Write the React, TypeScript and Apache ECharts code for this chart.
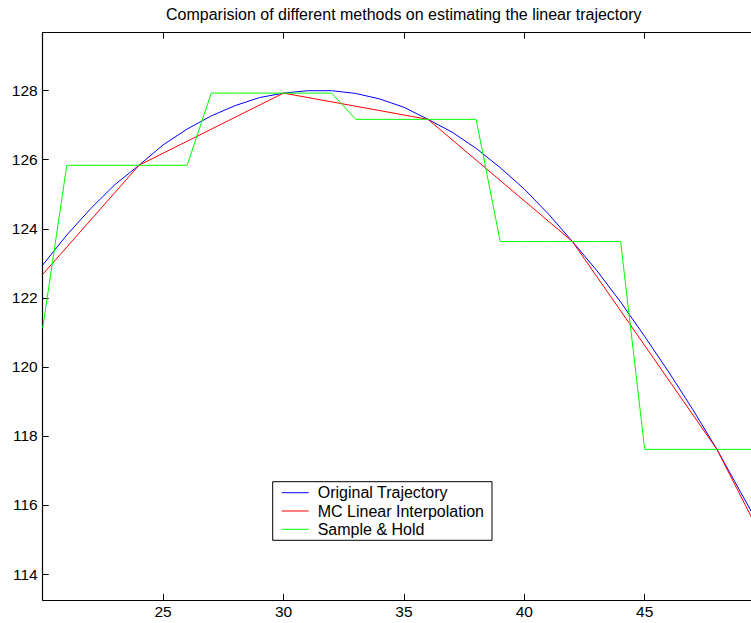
import React, { useEffect, useRef } from "react";
import * as echarts from "echarts";

const titleText = "Comparision of different methods on estimating the linear trajectory";
const seriesNames = ["Original Trajectory", "MC Linear Interpolation", "Sample & Hold"];

// Original trajectory, sampled at every integer x from 20 to 50
const trajX = [20, 21, 22, 23, 24, 25, 26, 27, 28, 29, 30, 31, 32, 33, 34, 35, 36, 37, 38, 39, 40, 41, 42, 43, 44, 45, 46, 47, 48, 49, 50];
const trajY = [122.95, 123.82, 124.59, 125.28, 125.84, 126.43, 126.89, 127.27, 127.57, 127.8, 127.93, 128.0, 128.0, 127.92, 127.76, 127.52, 127.17, 126.8, 126.33, 125.77, 125.15, 124.43, 123.63, 122.8, 121.88, 120.88, 119.85, 118.76, 117.61, 116.35, 115.1];

// MC linear interpolation vertices
const mcX = [20, 24, 30, 36, 42, 48, 50];
const mcY = [122.68, 125.84, 127.93, 127.17, 123.63, 117.61, 114.87];

// Sample & hold
const shX = [20, 21, 22, 23, 24, 25, 26, 27, 28, 29, 30, 31, 32, 33, 34, 35, 36, 37, 38, 39, 40, 41, 42, 43, 44, 45, 46, 47, 48, 49, 50];
const shY = [121.12, 125.84, 125.84, 125.84, 125.84, 125.84, 125.84, 127.93, 127.93, 127.93, 127.93, 127.93, 127.93, 127.17, 127.17, 127.17, 127.17, 127.17, 127.17, 123.63, 123.63, 123.63, 123.63, 123.63, 123.63, 117.61, 117.61, 117.61, 117.61, 117.61, 117.61];

const xTicks = [25, 30, 35, 40, 45];
const yTicks = [114, 116, 118, 120, 122, 124, 126, 128];
const xRange = [20, 50];
const yRange = [113.25, 129.68];

const colors = ["#0000ff", "#ff0000", "#00ff00"];
const FONT = "Liberation Sans, Arial, Helvetica, sans-serif";

function pairs(xs: number[], ys: number[]) {
  return xs.map((x, i) => [x, ys[i]]);
}

export default function App() {
  const ref = useRef<HTMLDivElement>(null);
  useEffect(() => {
    document.body.style.margin = "0";
    const chart = echarts.init(ref.current!, null, { renderer: "svg" });
    const axisCommon = {
      type: "value" as const,
      axisLine: { show: true, lineStyle: { color: "#000", width: 1.2 } },
      splitLine: { show: false },
    };
    chart.setOption({
      animation: false,
      backgroundColor: "#fff",
      title: {
        text: titleText,
        left: 166,
        top: 6,
        padding: 0,
        textStyle: { fontFamily: FONT, fontSize: 16, fontWeight: "normal", color: "#000" },
      },
      grid: { left: 42.7, top: 32.7, width: 722.4, height: 567.2, containLabel: false, outerBoundsMode: "none" },
      legend: {
        orient: "vertical",
        left: 272.7,
        top: 481.7,
        backgroundColor: "#fff",
        borderColor: "#000",
        borderWidth: 1,
        borderRadius: 0,
        padding: [2, 8, 2, 9],
        icon: "rect",
        itemWidth: 27,
        itemHeight: 1,
        itemGap: 0.3,
        textStyle: { fontFamily: FONT, fontSize: 16, color: "#000", lineHeight: 18, padding: [0, 0, 0, 4] },
        data: seriesNames,
      },
      xAxis: [
        {
          ...axisCommon,
          position: "bottom",
          min: xRange[0],
          max: xRange[1],
          axisTick: { show: true, inside: true, length: 6, customValues: xTicks, lineStyle: { color: "#000" } },
          axisLabel: { show: true, customValues: xTicks, margin: 4, fontFamily: FONT, fontSize: 15.5, color: "#000" },
        },
        {
          ...axisCommon,
          position: "top",
          min: xRange[0],
          max: xRange[1],
          axisTick: { show: true, inside: true, length: 6, customValues: xTicks, lineStyle: { color: "#000" } },
          axisLabel: { show: false },
        },
      ],
      yAxis: [
        {
          ...axisCommon,
          position: "left",
          min: yRange[0],
          max: yRange[1],
          axisTick: { show: true, inside: true, length: 6, customValues: yTicks, lineStyle: { color: "#000" } },
          axisLabel: { show: true, customValues: yTicks, margin: 5, fontFamily: FONT, fontSize: 15.5, color: "#000" },
        },
        {
          ...axisCommon,
          position: "right",
          min: yRange[0],
          max: yRange[1],
          axisTick: { show: true, inside: true, length: 6, customValues: yTicks, lineStyle: { color: "#000" } },
          axisLabel: { show: false },
        },
      ],
      series: [
        { name: seriesNames[0], type: "line", data: pairs(trajX, trajY), symbol: "none", color: colors[0], lineStyle: { width: 1, color: colors[0] } },
        { name: seriesNames[1], type: "line", data: pairs(mcX, mcY), symbol: "none", color: colors[1], lineStyle: { width: 1, color: colors[1] } },
        { name: seriesNames[2], type: "line", data: pairs(shX, shY), symbol: "none", color: colors[2], lineStyle: { width: 1, color: colors[2] } },
      ],
    });
    return () => chart.dispose();
  }, []);
  return <div ref={ref} style={{ position: "fixed", left: 0, top: 0, width: 751, height: 623 }} />;
}
